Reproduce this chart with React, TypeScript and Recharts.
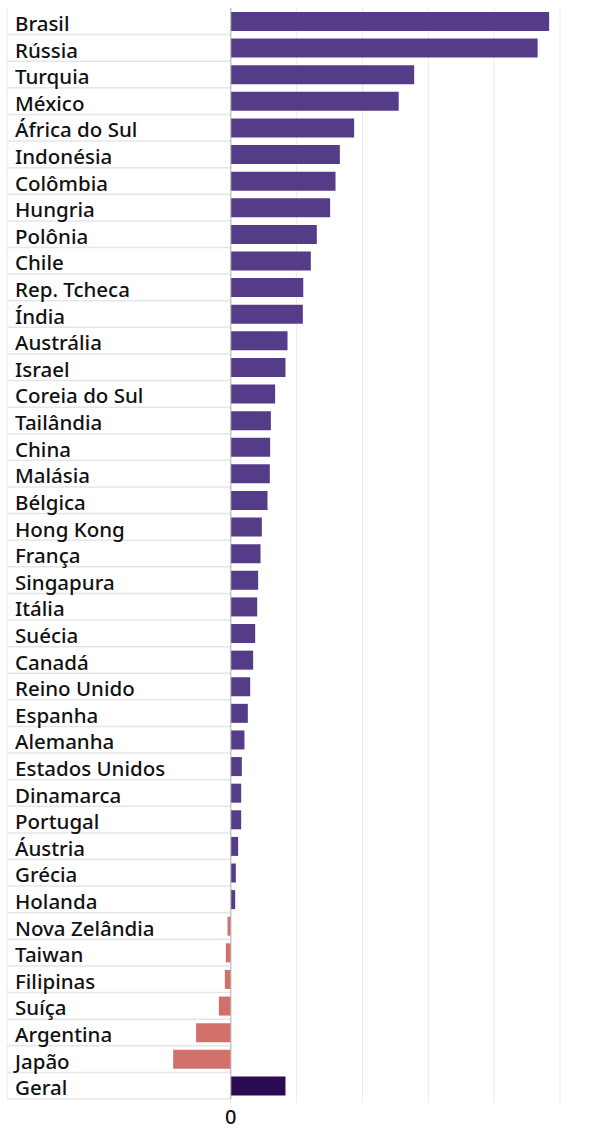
import React from 'react'
import {
  BarChart,
  Bar,
  XAxis,
  YAxis,
  CartesianGrid,
  ReferenceLine,
  Cell,
  LabelList,
} from 'recharts'

const countries = [
  'Brasil', 'Rússia', 'Turquia', 'México', 'África do Sul', 'Indonésia',
  'Colômbia', 'Hungria', 'Polônia', 'Chile', 'Rep. Tcheca', 'Índia',
  'Austrália', 'Israel', 'Coreia do Sul', 'Tailândia', 'China', 'Malásia',
  'Bélgica', 'Hong Kong', 'França', 'Singapura', 'Itália', 'Suécia',
  'Canadá', 'Reino Unido', 'Espanha', 'Alemanha', 'Estados Unidos',
  'Dinamarca', 'Portugal', 'Áustria', 'Grécia', 'Holanda', 'Nova Zelândia',
  'Taiwan', 'Filipinas', 'Suíça', 'Argentina', 'Japão', 'Geral',
]

const values = [
  4.835, 4.66, 2.785, 2.55, 1.873, 1.656,
  1.59, 1.508, 1.306, 1.215, 1.1, 1.094,
  0.861, 0.83, 0.673, 0.608, 0.597, 0.592,
  0.557, 0.471, 0.451, 0.415, 0.4, 0.37,
  0.339, 0.294, 0.258, 0.207, 0.167,
  0.157, 0.157, 0.111, 0.076, 0.066, -0.05,
  -0.076, -0.091, -0.182, -0.527, -0.876, 0.83,
]

const xTicks = [0, 1, 2, 3, 4, 5]
const xDomain = [-3.4, 5]
const totalLabel = 'Geral'

const data = countries.map((name, i) => ({ name, value: values[i] }))

const POS = '#553c88'
const NEG = '#d4706a'
const TOTAL = '#2b0b52'
const FONT = '"Noto Sans", sans-serif'

function barColor(d: { name: string; value: number }) {
  if (d.name === totalLabel) return TOTAL
  return d.value < 0 ? NEG : POS
}

// country names sit at the left edge of each row, over the negative area
function CountryLabel(props: any) {
  const { y, height, value } = props
  return (
    <text
      x={15}
      y={y + height / 2}
      dy="0.46em"
      textAnchor="start"
      fill="#111"
      fontSize={20.5}
      fontWeight={500}
      fontFamily={FONT}
    >
      {value}
    </text>
  )
}

function ZeroTick(props: any) {
  const { x, y, payload } = props
  if (payload.value !== 0) return null
  return (
    <text x={x} y={y} dy="0.8em" textAnchor="middle" fill="#111" fontSize={20} fontWeight={500} fontFamily={FONT}>
      0
    </text>
  )
}

export default function App() {
  return (
    <div style={{ width: 600, height: 1143 }}>
      <style>{'body{margin:0}'}</style>
      <BarChart
        width={600}
        height={1143}
        data={data}
        layout="vertical"
        margin={{ top: 8, right: 40, bottom: 10, left: 7 }}
      >
        <CartesianGrid horizontal={false} stroke="#ebebee" strokeWidth={1} />
        <XAxis
          type="number"
          domain={xDomain}
          ticks={xTicks}
          height={34}
          axisLine={false}
          tickLine={{ stroke: '#ebebee' }}
          tickSize={4}
          tickMargin={5}
          tick={<ZeroTick />}
          allowDataOverflow
        />
        <YAxis type="category" dataKey="name" hide />
        {countries.map((c) => (
          <ReferenceLine
            key={c}
            segment={[
              { x: xDomain[0], y: c },
              { x: 0, y: c },
            ]}
            position="end"
            stroke="#e6e6e8"
            strokeWidth={1.5}
            ifOverflow="visible"
          />
        ))}
        <ReferenceLine x={0} stroke="#b4b4b8" strokeWidth={1} />
        <Bar dataKey="value" barSize={19} isAnimationActive={false}>
          {data.map((d) => (
            <Cell key={d.name} fill={barColor(d)} />
          ))}
          <LabelList dataKey="name" content={<CountryLabel />} />
        </Bar>
      </BarChart>
    </div>
  )
}
